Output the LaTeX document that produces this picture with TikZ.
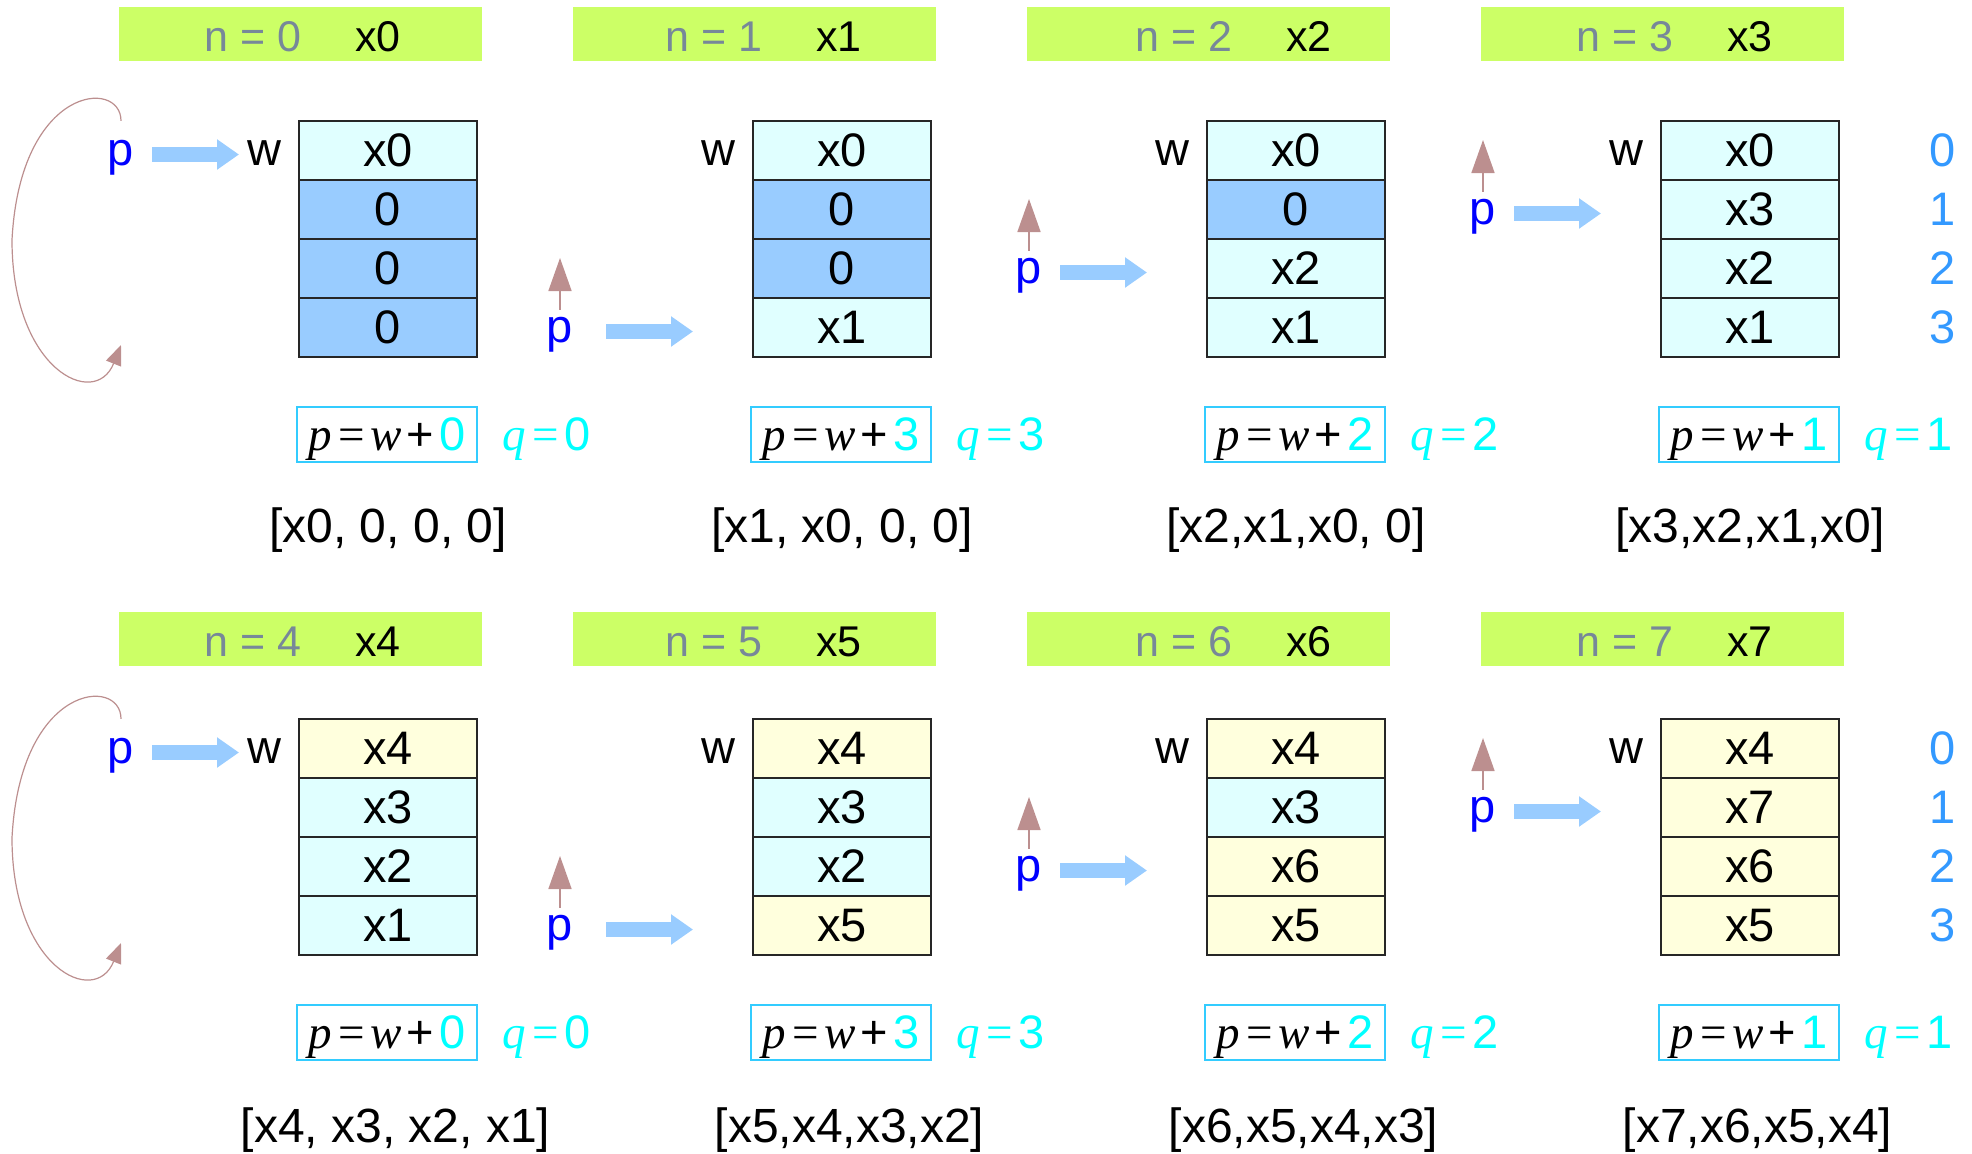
\documentclass[tikz,border=0pt]{standalone}
\usepackage{fontspec}
\setmainfont{Liberation Sans}
\newfontfamily\mathserif{Liberation Serif}
\usetikzlibrary{arrows.meta,positioning}
\definecolor{headgreen}{RGB}{204,255,102}
\definecolor{ngray}{RGB}{119,136,153}
\definecolor{oldcol}{RGB}{224,255,255}
\definecolor{zerocol}{RGB}{153,204,255}
\definecolor{newcol}{RGB}{255,255,221}
\definecolor{qcol}{RGB}{0,255,255}
\definecolor{boxcol}{RGB}{51,204,255}
\definecolor{idxcol}{RGB}{51,153,255}
\definecolor{ptrcol}{RGB}{153,204,255}
\definecolor{backcol}{RGB}{188,143,143}
\newcommand{\pw}[1]{{\mathserif\textit{p}\kern3pt=\kern3pt\textit{w}}\kern2.5pt+\kern2.5pt\textcolor{qcol}{#1}}
\newcommand{\qv}[1]{{\color{qcol}{\mathserif\textit{q}\kern3pt=}\kern3pt#1}}

\begin{document}
\begin{tikzpicture}[x=0.5pt,y=-0.5pt,
 every node/.style={inner sep=0pt,font=\fontsize{23.5}{28}\selectfont},
 cell/.style={draw=black!85,line width=0.7pt,minimum width=89pt,minimum height=29.5pt},
 oldval/.style={fill=oldcol},zeroval/.style={fill=zerocol},newval/.style={fill=newcol},
 hdr/.style={fill=headgreen,minimum width=181.5pt,minimum height=27pt},
 hdrtxt/.style={font=\fontsize{21.5}{26}\selectfont},
 formula/.style={draw=boxcol,line width=0.6pt,minimum width=90pt,minimum height=27.5pt,
  text height=21.5pt,text depth=6pt},
 qtxt/.style={text height=21.5pt,text depth=6pt},
 ptxt/.style={text=blue,text height=16pt,text depth=5.3pt},
 ptr/.style={draw=ptrcol,line width=7.5pt,-{Triangle[length=11pt,width=14.5pt]}},
 upptr/.style={draw=backcol,line width=0.8pt,-{Triangle[length=16.5pt,width=11.5pt]}},
 wrap/.style={draw=backcol,line width=0.6pt,-{Triangle[length=10pt,width=8pt]}}]
\useasboundingbox (0,0) rectangle (1972,1153);

% memory cells of the ring buffer
\foreach \i/\k/\val/\fc in {
 0/0/x0/oldval, 0/1/0/zeroval, 0/2/0/zeroval, 0/3/0/zeroval,
 1/0/x0/oldval, 1/1/0/zeroval, 1/2/0/zeroval, 1/3/x1/oldval,
 2/0/x0/oldval, 2/1/0/zeroval, 2/2/x2/oldval, 2/3/x1/oldval,
 3/0/x0/oldval, 3/1/x3/oldval, 3/2/x2/oldval, 3/3/x1/oldval,
 4/0/x4/newval, 4/1/x3/oldval, 4/2/x2/oldval, 4/3/x1/oldval,
 5/0/x4/newval, 5/1/x3/oldval, 5/2/x2/oldval, 5/3/x5/newval,
 6/0/x4/newval, 6/1/x3/oldval, 6/2/x6/newval, 6/3/x5/newval,
 7/0/x4/newval, 7/1/x7/newval, 7/2/x6/newval, 7/3/x5/newval}{
 \pgfmathsetmacro\cx{388+454*mod(\i,4)}
 \pgfmathsetmacro\cy{150.5+59*\k+598*int(\i/4)}
 \node[cell,\fc] (m\i-\k) at (\cx,\cy) {\val};
}

% one panel per step n
\foreach \i/\qi/\dn/\px/\sh/\lst in {
 0/0/134/178/9pt/{[x0, 0, 0, 0]}, 1/3/141/193/16.5pt/{[x1, x0, 0, 0]},
 2/2/157/178/9pt/{[x2,x1,x0, 0]}, 3/1/144/178/9pt/{[x3,x2,x1,x0]},
 4/0/134/178/9pt/{[x4, x3, x2, x1]}, 5/3/141/193/16.5pt/{[x5,x4,x3,x2]},
 6/2/157/178/9pt/{[x6,x5,x4,x3]}, 7/1/144/178/9pt/{[x7,x6,x5,x4]}}{
 \pgfmathsetmacro\ax{299+454*mod(\i,4)}
 \pgfmathsetmacro\dy{598*int(\i/4)}
 \pgfmathsetmacro\hy{34+605*int(\i/4)}
 \pgfmathsetmacro\lx{\ax+89+7.5*int(\i/4)}
 \pgfmathsetmacro\ly{530+600*int(\i/4)}
 \node[hdr] (h\i) at (\ax+1.5,\hy) {};
 \node[hdrtxt,text=ngray] (hn\i) at (\ax-180+\dn,\hy+2.5) {n = \i};
 \node[hdrtxt] (hx\i) at (\ax-55+\dn,\hy+2.5) {x\i};
 \node (w\i) at (\ax-35,153+\dy) {w};
 \node[ptxt] (p\i) at (\ax-\px,154.5+59*\qi+\dy) {p};
 \coordinate (t\i) at (\ax-60,154.5+59*\qi+\dy);
 \draw[ptr,shorten <=\sh] (p\i.east) -- (t\i);
 \ifnum\qi=0
  \coordinate (r\i) at (\ax-178,345+\dy);
  \draw[wrap,shorten <=6pt] (p\i.north) .. controls (\ax-178,78+\dy) and (\ax-279,85+\dy)
   .. (\ax-287,240+\dy) .. controls (\ax-287,370+\dy) and (\ax-204,410+\dy) .. (r\i);
 \else
  \coordinate (u\i) at (\ax-\px,81+59*\qi+\dy);
  \draw[upptr] (p\i.north) -- (u\i);
 \fi
 \node[formula] (f\i) at (\ax+88,434.5+\dy) {\pw{\qi}};
 \node[qtxt] (q\i) at (\ax+248,434.5+\dy) {\qv{\qi}};
 \node[font=\fontsize{24}{28}\selectfont] (l\i) at (\lx,\ly) {\lst};
}

% slot numbers
\foreach \r in {0,1}
 \foreach \k in {0,...,3}
  \node[text=idxcol] (ix\r\k) at (1943,150.5+59*\k+598*\r) {\k};
\end{tikzpicture}
\end{document}
